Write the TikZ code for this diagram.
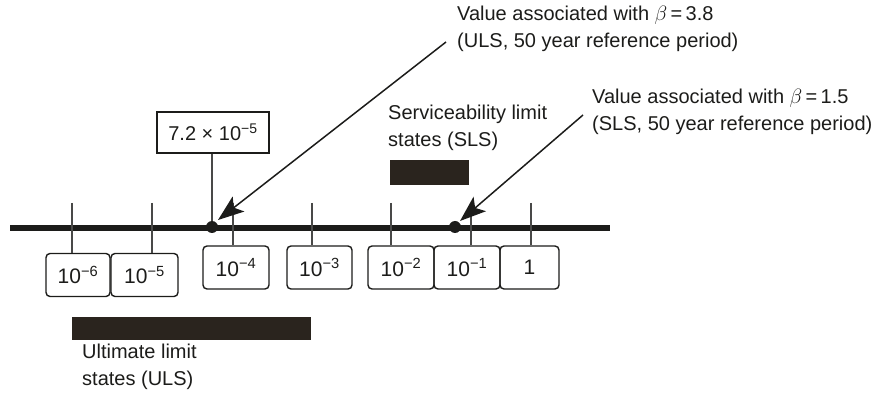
\documentclass[tikz,border=0pt]{standalone}
\usepackage{fontspec}
\setmainfont{Liberation Sans}
\usetikzlibrary{arrows.meta}
\definecolor{ink}{RGB}{28,28,26}
\definecolor{barcol}{RGB}{42,36,30}
\begin{document}
\begin{tikzpicture}[x=1pt,y=-1pt,
  lbl/.style={font=\fontsize{20}{27}\selectfont, text=ink},
  valbox/.style={draw=ink, rounded corners=4pt, line width=1.4pt, inner sep=0pt,
    minimum height=43pt, font=\fontsize{21}{24}\selectfont, text=ink},
  sqbox/.style={draw=ink, line width=1.4pt, inner sep=0pt, minimum height=41pt,
    minimum width=112pt, font=\fontsize{20}{24}\selectfont, text=ink},
  tick/.style={draw=ink!80, line width=1.2pt},
  axis/.style={draw=ink, line width=5.5pt},
  dotn/.style={circle, fill=ink, inner sep=0pt, minimum size=12pt},
  bar/.style={fill=barcol, draw=none},
  pointer/.style={draw=ink, line width=1.5pt, -{Stealth[length=26pt,width=19pt,inset=6pt]}},
  textlines/.style={lbl, align=left, anchor=north west, inner sep=0pt}
]
\useasboundingbox (0,0) rectangle (889,403);

% axis
\coordinate (L) at (10,228);
\coordinate (R) at (610,228);
\draw[axis] (L) -- (R);

% value boxes
\node[valbox, minimum width=64pt] (b6) at (78,275) {10\textsuperscript{−6}};
\node[valbox, minimum width=67pt] (b5) at (144.5,275) {10\textsuperscript{−5}};
\node[valbox, minimum width=66pt] (b4) at (236,267.5) {10\textsuperscript{−4}};
\node[valbox, minimum width=65pt] (b3) at (319.5,267.5) {10\textsuperscript{−3}};
\node[valbox, minimum width=66pt] (b2) at (401,267.5) {10\textsuperscript{−2}};
\node[valbox, minimum width=66pt] (b1) at (467,267.5) {10\textsuperscript{−1}};
\node[valbox, minimum width=59pt] (b0) at (529.5,267.5) {1};

% tick tops
\coordinate (t6) at (72,203);
\coordinate (t5) at (152,203);
\coordinate (t4) at (233,203);
\coordinate (t3) at (312,203);
\coordinate (t2) at (391,203);
\coordinate (t1) at (471,214);
\coordinate (t0) at (531,203);
\draw[tick] (t6) -- (t6 |- b6.north);
\draw[tick] (t5) -- (t5 |- b5.north);
\draw[tick] (t4) -- (t4 |- b4.north);
\draw[tick] (t3) -- (t3 |- b3.north);
\draw[tick] (t2) -- (t2 |- b2.north);
\draw[tick] (t1) -- (t1 |- b1.north);
\draw[tick] (t0) -- (t0 |- b0.north);

% dots
\node[dotn] (d1) at (212,227) {};
\node[dotn] (d2) at (455,227) {};

% 7.2 x 10^-5 box
\node[sqbox] (pv) at (213,132.5) {7.2 × 10\textsuperscript{−5}};
\draw[tick] (pv.south -| d1) -- (d1);

% annotations
\node[textlines] (uls) at (457,6) {Value associated with $\beta$\,=\,3.8\\(ULS, 50 year reference period)};
\node[textlines] (sls) at (592,89) {Value associated with $\beta$\,=\,1.5\\(SLS, 50 year reference period)};
\coordinate (a1) at (446,42);
\coordinate (a2) at (583,115);
\coordinate (e1) at (218,220);
\coordinate (e2) at (460,221);
\draw[pointer] (a1) -- (e1);
\draw[pointer] (a2) -- (e2);

% SLS bar and label
\node[textlines] (slst) at (388,105) {Serviceability limit\\states (SLS)};
\fill[bar] (390,160) rectangle (469,185);

% ULS bar and label
\fill[bar] (72,317) rectangle (311,340);
\node[textlines] (ulst) at (82,344) {Ultimate limit\\states (ULS)};
\end{tikzpicture}
\end{document}
